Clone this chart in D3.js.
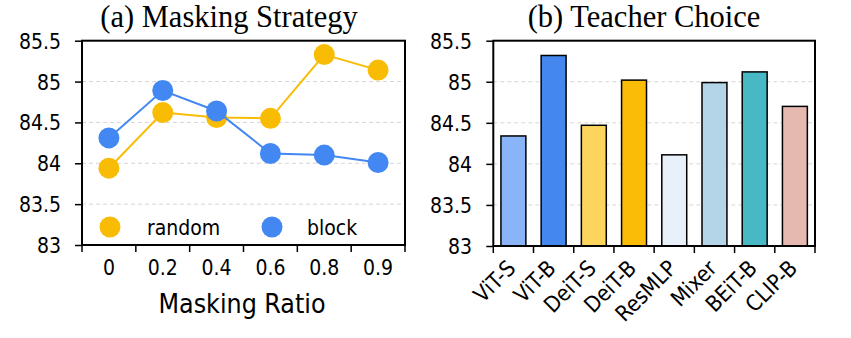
<!DOCTYPE html>
<html><head><meta charset="utf-8">
<script src="https://cdn.jsdelivr.net/npm/d3@7"></script>
<style>
html,body{margin:0;padding:0;background:#fff;}
svg{display:block;}
.sans{font-family:"DejaVu Sans Condensed","DejaVu Sans",sans-serif;font-stretch:condensed;}
.serif{font-family:"Liberation Serif","Times New Roman",serif;}
</style>
</head><body>
<svg id="chart" width="851" height="338"></svg>
<script>
// ---- data ----
const ratios = ["0","0.2","0.4","0.6","0.8","0.9"];
const randomVals = [83.94, 84.62, 84.56, 84.55, 85.33, 85.14];
const blockVals  = [84.31, 84.89, 84.64, 84.12, 84.10, 84.01];
const teachers = ["ViT-S","ViT-B","DeiT-S","DeiT-B","ResMLP","Mixer","BEiT-B","CLIP-B"];
const teacherVals = [84.34, 85.32, 84.47, 85.02, 84.11, 84.99, 85.12, 84.70];
const teacherColors = ["#8AB4F8","#4387EF","#FDD45C","#FBBC08","#E8F0FA","#B4D4E8","#48B9C4","#E5B8B0"];
const yTicks = [83, 83.5, 84, 84.5, 85, 85.5];
const seriesNames = ["random","block"];
const seriesColors = ["#F9BC05","#4387F2"];

const svg = d3.select("#chart");
const FS = 21;

function drawFrame(g, x0, x1, y, yLabelRight){
  g.selectAll(".grid").data(yTicks.filter(t=>t>83 && t<85.5)).join("line")
    .attr("x1", x0).attr("x2", x1)
    .attr("y1", d=>y(d)).attr("y2", d=>y(d))
    .attr("stroke","#d6d6d6").attr("stroke-width",1).attr("stroke-dasharray","4,3");
  const ya = d3.axisLeft(y).tickValues(yTicks).tickSize(7).tickPadding(0).tickFormat(d=>d3.format("")(d));
  const ag = g.append("g").attr("transform",`translate(${x0},0)`).call(ya);
  ag.select(".domain").remove();
  ag.selectAll(".tick line").attr("stroke","#000").attr("stroke-width",1.5);
  ag.selectAll(".tick text").attr("class","sans").attr("font-size",FS).attr("fill","#000")
    .attr("x", yLabelRight - x0).attr("text-anchor","end").attr("dy","0.36em");
}

// ---------- Panel (a) ----------
{
  const L=82, R=405, T=40.7, B=245;
  const g = svg.append("g");
  const x = d3.scaleBand().domain(ratios).range([L,R]).padding(0);
  const y = d3.scaleLinear().domain([83,85.5]).range([B,T]);
  drawFrame(g, L, R, y, 61);

  const edges = ratios.map(d=>x(d)).concat([R]);
  g.selectAll(".xt").data(edges).join("line")
    .attr("x1",d=>d).attr("x2",d=>d).attr("y1",B).attr("y2",B+7)
    .attr("stroke","#000").attr("stroke-width",1.5);
  g.selectAll(".xl").data(ratios).join("text").attr("class","sans")
    .attr("x",d=>x(d)+x.bandwidth()/2).attr("y",275)
    .attr("text-anchor","middle").attr("font-size",FS).text(d=>d);

  const line = d3.line().x((d,i)=>x(ratios[i])+x.bandwidth()/2).y(d=>y(d));
  const series = [randomVals, blockVals];
  series.forEach((vals,si)=>{
    g.append("path").datum(vals).attr("d",line).attr("fill","none")
      .attr("stroke",seriesColors[si]).attr("stroke-width",2);
    g.selectAll(".pt"+si).data(vals).join("circle")
      .attr("cx",(d,i)=>x(ratios[i])+x.bandwidth()/2).attr("cy",d=>y(d)).attr("r",10.5)
      .attr("fill",seriesColors[si]);
  });

  const lx=[110,272], tx=[147,307];
  seriesNames.forEach((n,i)=>{
    g.append("circle").attr("cx",lx[i]).attr("cy",227).attr("r",10.5).attr("fill",seriesColors[i]);
    g.append("text").attr("class","sans").attr("x",tx[i]).attr("y",227).attr("dy","0.36em")
      .attr("font-size",21).text(n);
  });

  g.append("rect").attr("x",L).attr("y",T).attr("width",R-L).attr("height",B-T)
    .attr("fill","none").attr("stroke","#000").attr("stroke-width",2);

  g.append("text").attr("class","serif").attr("x",229).attr("y",27)
    .attr("text-anchor","middle").attr("font-size",30.5).text("(a) Masking Strategy");
  g.append("text").attr("class","sans").attr("x",242).attr("y",313)
    .attr("text-anchor","middle").attr("font-size",26.5).text("Masking Ratio");
}

// ---------- Panel (b) ----------
{
  const L=493.3, R=815, T=40.7, B=246;
  const g = svg.append("g");
  const x = d3.scaleBand().domain(teachers).range([L,R]).paddingInner(0.38).paddingOuter(0.19);
  const y = d3.scaleLinear().domain([83,85.5]).range([B,T]);
  drawFrame(g, L, R, y, 472);

  g.selectAll(".bar").data(teacherVals).join("rect")
    .attr("x",(d,i)=>x(teachers[i])).attr("width",x.bandwidth())
    .attr("y",d=>y(d)).attr("height",d=>B-y(d))
    .attr("fill",(d,i)=>teacherColors[i]).attr("stroke","#000").attr("stroke-width",1.5);

  const step = x.step();
  const edges = d3.range(teachers.length+1).map(i=>L+i*step);
  g.selectAll(".xt").data(edges).join("line")
    .attr("x1",d=>d).attr("x2",d=>d).attr("y1",B).attr("y2",B+7)
    .attr("stroke","#000").attr("stroke-width",1.5);
  g.selectAll(".xl").data(teachers).join("text").attr("class","sans")
    .attr("transform",d=>`translate(${x(d)+x.bandwidth()/2-2},${264}) rotate(-45)`)
    .attr("text-anchor","end").attr("font-size",22).attr("dy","0.36em").text(d=>d);

  g.append("rect").attr("x",L).attr("y",T).attr("width",R-L).attr("height",B-T)
    .attr("fill","none").attr("stroke","#000").attr("stroke-width",2);

  g.append("text").attr("class","serif").attr("x",644).attr("y",27)
    .attr("text-anchor","middle").attr("font-size",30.5).text("(b) Teacher Choice");
}
</script>
</body></html>
